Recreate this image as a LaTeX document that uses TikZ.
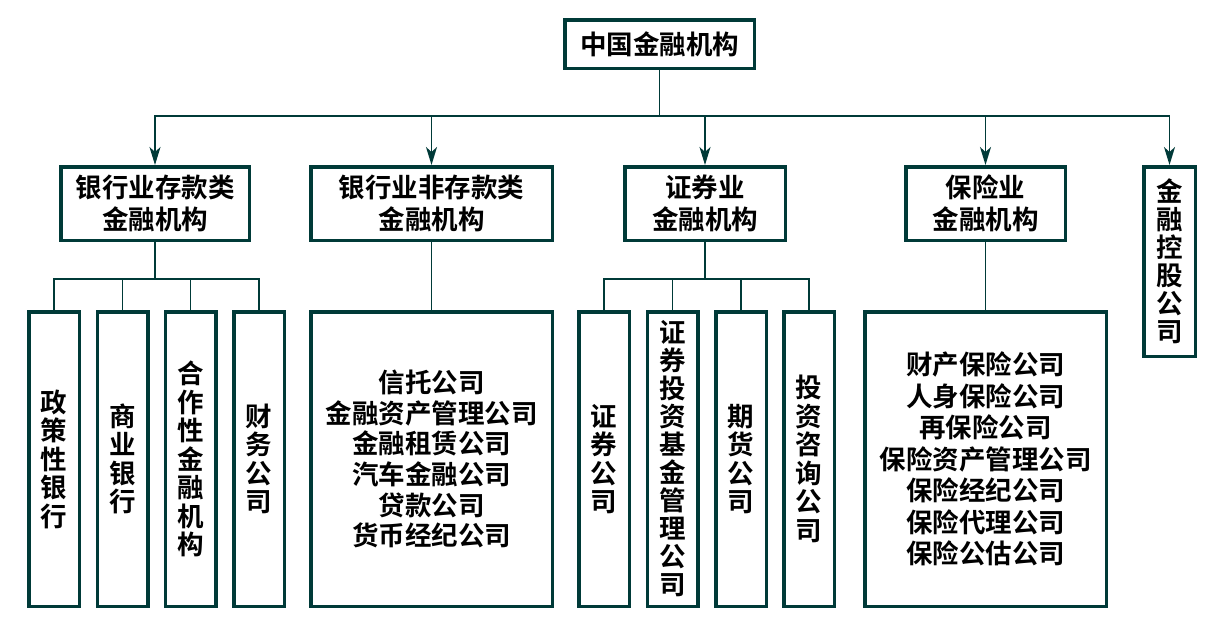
\documentclass[tikz,border=0pt]{standalone}
\usepackage{fontspec}
\newfontfamily\cjk{Noto Sans CJK SC}[BoldFont={Noto Sans CJK SC Bold}]
\usetikzlibrary{arrows.meta}
\definecolor{lc}{RGB}{0,58,56}
\tikzset{
  box/.style={draw=lc, line width=3.5pt, fill=white, inner sep=0pt, align=center,
    font=\cjk\bfseries\fontsize{26.5}{31.5}\selectfont},
  vbox/.style={box, minimum width=50.5pt, minimum height=294.5pt,
    font=\cjk\bfseries\fontsize{26.5}{28.5}\selectfont},
  midbox/.style={box, minimum height=73.5pt},
  conn/.style={draw=lc, line width=1.5pt},
  arr/.style={conn, -{Stealth[length=18pt,width=11pt,inset=5pt]}}
}
\begin{document}
\begin{tikzpicture}[x=1pt,y=-1pt]
\useasboundingbox (0,0) rectangle (1212,619);
\fill[white] (0,0) rectangle (1212,619);

% top
\node[box, minimum width=189.5pt, minimum height=48.5pt] (top) at (659.5,44) {中国金融机构};

% level 2
\node[midbox, minimum width=188.5pt] (b1) at (155,203.5) {银行业存款类\\金融机构};
\node[midbox, minimum width=241.5pt] (b2) at (431.5,203.5) {银行业非存款类\\金融机构};
\node[midbox, minimum width=160.5pt] (b3) at (705,203.5) {证券业\\金融机构};
\node[midbox, minimum width=159.5pt] (b4) at (985.5,203.5) {保险业\\金融机构};
\node[box, minimum width=51.5pt, minimum height=189.5pt,
  font=\cjk\bfseries\fontsize{26.5}{28}\selectfont] (b5) at (1169.5,261.5) {金\\融\\控\\股\\公\\司};

% level 3 - banking deposit
\node[vbox] (c1) at (54,459) {政\\策\\性\\银\\行};
\node[vbox] (c2) at (122.5,459) {商\\业\\银\\行};
\node[vbox] (c3) at (190.5,459) {合\\作\\性\\金\\融\\机\\构};
\node[vbox] (c4) at (259,459) {财\\务\\公\\司};

% level 3 - non deposit
\node[box, minimum width=241.5pt, minimum height=294.5pt,
  font=\cjk\bfseries\fontsize{26.5}{30.6}\selectfont] (d1) at (431.5,459)
  {信托公司\\金融资产管理公司\\金融租赁公司\\汽车金融公司\\贷款公司\\货币经纪公司};

% level 3 - securities
\node[vbox] (e1) at (604,459) {证\\券\\公\\司};
\node[vbox, font=\cjk\bfseries\fontsize{26.5}{28}\selectfont] (e2) at (672.5,459) {证\\券\\投\\资\\基\\金\\管\\理\\公\\司};
\node[vbox] (e3) at (741,459) {期\\货\\公\\司};
\node[vbox] (e4) at (809,459) {投\\资\\咨\\询\\公\\司};

% level 3 - insurance
\node[box, minimum width=241.5pt, minimum height=294.5pt] (f1) at (985.5,459)
  {财产保险公司\\人身保险公司\\再保险公司\\保险资产管理公司\\保险经纪公司\\保险代理公司\\保险公估公司};

% connectors top -> level 2
\coordinate (hub) at (659.5,116);
\draw[conn] (top.south) -- (hub);
\draw[arr] (hub) -| (b1.north);
\draw[arr] (hub) -| (b2.north);
\draw[arr] (hub) -| (b3.north);
\draw[arr] (hub) -| (b4.north);
\draw[arr] (hub) -| (b5.north);

% banking deposit
\coordinate (h1) at (155,279);
\draw[conn] (b1.south) -- (h1);
\draw[conn] (h1) -| (c1.north);
\draw[conn] (h1) -| (c2.north);
\draw[conn] (h1) -| (c3.north);
\draw[conn] (h1) -| (c4.north);

% non deposit
\draw[conn] (b2.south) -- (d1.north);

% securities
\coordinate (h3) at (705,279);
\draw[conn] (b3.south) -- (h3);
\draw[conn] (h3) -| (e1.north);
\draw[conn] (h3) -| (e2.north);
\draw[conn] (h3) -| (e3.north);
\draw[conn] (h3) -| (e4.north);

% insurance
\draw[conn] (b4.south) -- (f1.north);
\end{tikzpicture}
\end{document}
